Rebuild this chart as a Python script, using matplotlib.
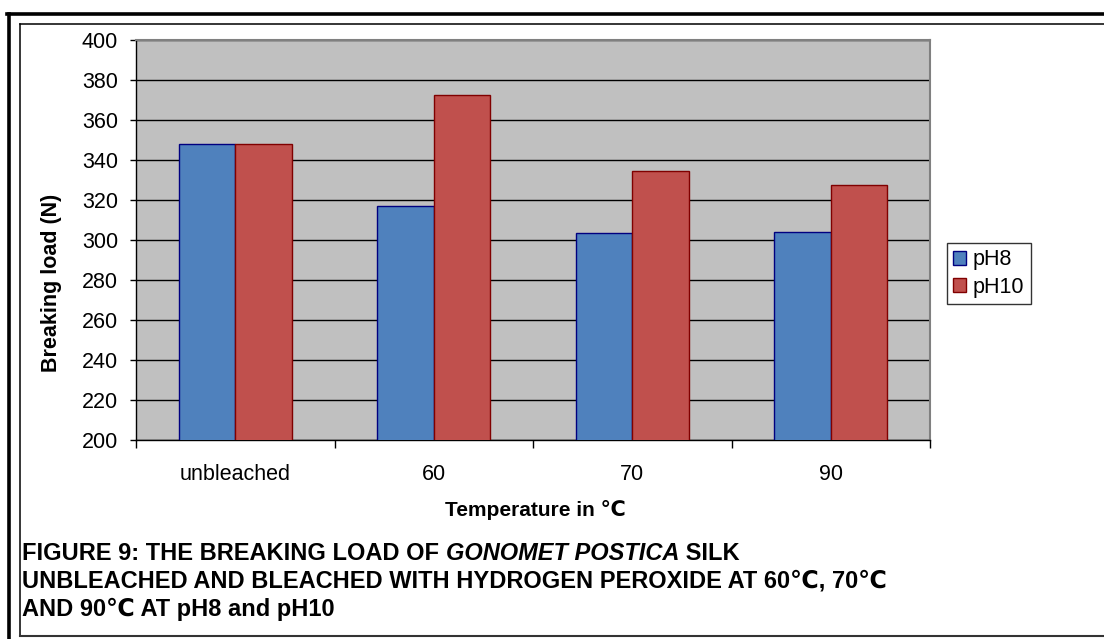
import matplotlib
matplotlib.use("Agg")
import matplotlib.pyplot as plt
from matplotlib.lines import Line2D
import numpy as np

plt.rcParams['font.family'] = ['Liberation Sans', 'DejaVu Sans']

categories = ["unbleached", "60", "70", "90"]
ph8 = [348, 317, 303.5, 304]
ph10 = [348, 372.5, 334.5, 327.5]
series_names = ["pH8", "pH10"]
yticks = list(range(200, 401, 20))

W, H = 1104, 639
fig = plt.figure(figsize=(W / 100, H / 100), dpi=100)
fig.patch.set_facecolor("white")

def fx(px):
    return px / W

def fy(py):
    return 1 - py / H

ax = fig.add_axes([fx(136), fy(440), fx(930) - fx(136), fy(40) - fy(440)])
ax.set_facecolor("#c0c0c0")

x = np.arange(len(categories))
w = 1 / 3.5
ax.bar(x - w / 2, ph8, width=w, color="#4f81bd", edgecolor="#000080",
       linewidth=1.0, label=series_names[0], zorder=3)
ax.bar(x + w / 2, ph10, width=w, color="#c0504d", edgecolor="#800000",
       linewidth=1.0, label=series_names[1], zorder=3)

tick_fs = 15.5
ax.set_ylim(200, 400)
ax.set_xlim(-0.5, len(categories) - 0.5)
ax.set_yticks(yticks)
ax.set_yticklabels([str(v) for v in yticks], fontsize=tick_fs)
ax.set_xticks(x)
ax.set_xticklabels(categories, fontsize=tick_fs)
ax.set_xticks(np.arange(-0.5, len(categories), 1), minor=True)
ax.tick_params(axis="x", which="major", length=0, pad=17)
ax.tick_params(axis="x", which="minor", length=5.5, width=1, color="black")
ax.tick_params(axis="y", length=4.5, width=1, color="black", pad=8.5)
ax.grid(axis="y", color="black", linewidth=1, zorder=1)
ax.set_axisbelow(True)

for s in ["top", "right"]:
    ax.spines[s].set_color("#808080")
    ax.spines[s].set_linewidth(1.5)
for s in ["left", "bottom"]:
    ax.spines[s].set_color("black")
    ax.spines[s].set_linewidth(1)

fig.text(fx(535), fy(510), "Temperature in \u2103", fontsize=15, fontweight="bold",
         ha="center", va="center")
fig.text(fx(52), fy(283), "Breaking load (N)", fontsize=tick_fs, fontweight="bold",
         ha="center", va="center", rotation=90)

leg = fig.legend(loc="upper left", bbox_to_anchor=(fx(947), fy(243)),
                 bbox_transform=fig.transFigure, fontsize=tick_fs, frameon=True,
                 fancybox=False, edgecolor="black", handlelength=0.6,
                 handleheight=0.6, handletextpad=0.3, borderpad=0.3,
                 labelspacing=0.3, borderaxespad=0)
leg.get_frame().set_linewidth(1)

# caption
cap_fs = 17
r = fig.canvas.get_renderer()
x0 = fx(22)
y1 = fy(553)
t1 = fig.text(x0, y1, "FIGURE 9: THE BREAKING LOAD OF ", fontsize=cap_fs,
              fontweight="bold", ha="left", va="center")
bb = t1.get_window_extent(renderer=r)
t2 = fig.text(bb.x1 / W, y1, "GONOMET POSTICA", fontsize=cap_fs,
              fontweight="bold", fontstyle="italic", ha="left", va="center")
bb2 = t2.get_window_extent(renderer=r)
fig.text(bb2.x1 / W, y1, " SILK", fontsize=cap_fs, fontweight="bold",
         ha="left", va="center")
fig.text(x0, fy(581), "UNBLEACHED AND BLEACHED WITH HYDROGEN PEROXIDE AT 60\u2103, 70\u2103",
         fontsize=cap_fs, fontweight="bold", ha="left", va="center")
fig.text(x0, fy(609), "AND 90\u2103 AT pH8 and pH10", fontsize=cap_fs,
         fontweight="bold", ha="left", va="center")

# borders
fig.add_artist(Line2D([fx(8.5), fx(8.5)], [fy(13.5), fy(H + 5)], color="black",
                      linewidth=2.6, transform=fig.transFigure))
fig.add_artist(Line2D([fx(7), fx(W + 5)], [fy(13.5), fy(13.5)], color="black",
                      linewidth=2.6, transform=fig.transFigure))
fig.add_artist(Line2D([fx(19.5), fx(19.5)], [fy(23.5), fy(636)], color="black",
                      linewidth=1.1, transform=fig.transFigure))
fig.add_artist(Line2D([fx(19.5), fx(W + 5)], [fy(23.5), fy(23.5)], color="black",
                      linewidth=1.1, transform=fig.transFigure))
fig.add_artist(Line2D([fx(19.5), fx(W + 5)], [fy(636), fy(636)], color="#333333",
                      linewidth=1.5, transform=fig.transFigure))

fig.savefig("out.png", dpi=100, facecolor="white")
